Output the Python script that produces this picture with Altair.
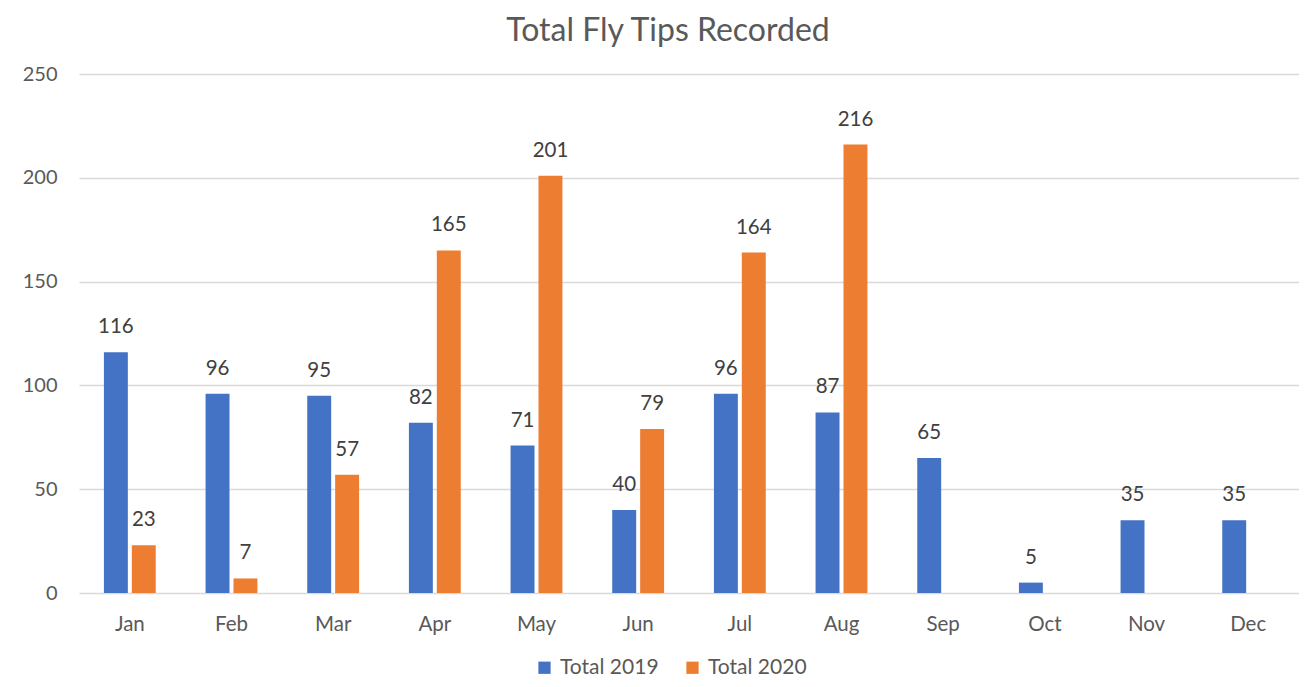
import altair as alt
import pandas as pd

months = ["Jan", "Feb", "Mar", "Apr", "May", "Jun", "Jul", "Aug", "Sep", "Oct", "Nov", "Dec"]
total_2019 = [116, 96, 95, 82, 71, 40, 96, 87, 65, 5, 35, 35]
total_2020 = [23, 7, 57, 165, 201, 79, 164, 216, None, None, None, None]
series = ["Total 2019", "Total 2020"]
colors = ["#4472C4", "#ED7D31"]
title_text = "Total Fly Tips Recorded"

rows = []
for m, a, b in zip(months, total_2019, total_2020):
    rows.append({"month": m, "series": series[0], "value": a})
    if b is not None:
        rows.append({"month": m, "series": series[1], "value": b})
df = pd.DataFrame(rows)

FONT = "Lato"
TXT = "#595959"

x_enc = alt.X("month:N", sort=months,
              scale=alt.Scale(paddingInner=0.49, paddingOuter=0.245),
              axis=alt.Axis(title=None, labelAngle=0, labelFontSize=20.5, labelColor=TXT,
                            labelFont=FONT, ticks=False, domain=False, labelPadding=21,
                            grid=False))
xoff = alt.XOffset("series:N", sort=series, scale=alt.Scale(paddingInner=0.143, paddingOuter=0))
y_enc = alt.Y("value:Q", scale=alt.Scale(domain=[0, 250], nice=False),
              axis=alt.Axis(title=None, values=[0, 50, 100, 150, 200, 250], labelFontSize=20,
                            labelColor=TXT, labelFont=FONT, ticks=False, domain=False,
                            labelPadding=22, gridColor="#D9D9D9", gridWidth=1.3))

base = alt.Chart(df).encode(x=x_enc, xOffset=xoff, y=y_enc)

bars = base.mark_bar().encode(
    color=alt.Color("series:N", sort=series, scale=alt.Scale(domain=series, range=colors),
                    legend=alt.Legend(title=None, orient="none", legendX=455, legendY=583,
                                      direction="horizontal", labelFontSize=21, labelColor=TXT,
                                      labelFont=FONT, symbolType="square", symbolSize=150,
                                      symbolStrokeWidth=0, columnPadding=23, labelOffset=5))
)
labels = base.mark_text(dy=-25, fontSize=20.5, color="#404040", font=FONT, baseline="middle").encode(
    text=alt.Text("value:Q")
)

title = alt.Chart(pd.DataFrame({"t": [title_text]})).mark_text(
    fontSize=32, color=TXT, font=FONT, align="center", baseline="alphabetic"
).encode(text="t:N", x=alt.value(589), y=alt.value(-33))

chart = (bars + labels + title).properties(
    width=1220, height=519,
    padding={"left": 71, "top": 66, "right": 0, "bottom": 86},
    autosize=alt.AutoSizeParams(type="none"),
).configure_view(stroke=None)

chart.save("out.html", embed_options={"renderer": "svg", "actions": False})
